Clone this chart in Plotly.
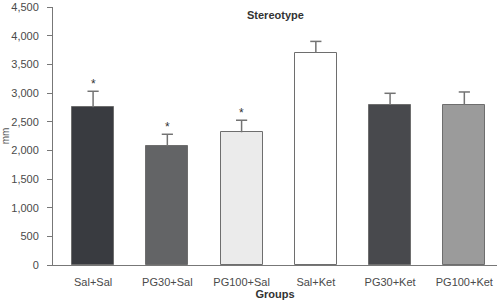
import plotly.graph_objects as go

groups = ["Sal+Sal", "PG30+Sal", "PG100+Sal", "Sal+Ket", "PG30+Ket", "PG100+Ket"]
means = [2750, 2070, 2315, 3700, 2790, 2790]
sem = [280, 210, 210, 200, 205, 228]
significant = [True, True, True, False, False, False]
colors = ["#393b40", "#636466", "#ebebeb", "#ffffff", "#48494d", "#9b9b9b"]

xs = list(range(len(groups)))
tops = [m + s for m, s in zip(means, sem)]

fig = go.Figure()
fig.add_trace(go.Bar(
    x=xs, y=means, width=0.565,
    marker=dict(color=colors, line=dict(color="#6e6e6e", width=1)),
    showlegend=False,
))

# error bar stems (upward only)
stem_x, stem_y = [], []
for x, m, t in zip(xs, means, tops):
    stem_x += [x, x, None]
    stem_y += [m, t, None]
fig.add_trace(go.Scatter(x=stem_x, y=stem_y, mode="lines",
                         line=dict(color="#737373", width=1.5),
                         showlegend=False, hoverinfo="skip"))
fig.add_trace(go.Scatter(x=xs, y=tops, mode="markers",
                         marker=dict(symbol="line-ew", size=8,
                                     line=dict(color="#737373", width=1.5)),
                         showlegend=False, hoverinfo="skip"))

for i, (t, sig) in enumerate(zip(tops, significant)):
    if sig:
        fig.add_annotation(x=i, y=t, text="*", showarrow=False, yanchor="bottom",
                           yshift=-2, font=dict(size=12, color="#333333", family="Liberation Sans"))

fig.add_annotation(x=0.5, y=1.0, xref="paper", yref="paper", text="<b>Stereotype</b>",
                   showarrow=False, yanchor="top",
                   font=dict(size=11, color="#333333", family="Liberation Sans"))

fig.update_layout(
    width=497, height=302,
    margin=dict(l=53, r=0, t=7, b=37),
    plot_bgcolor="white", paper_bgcolor="white",
    font=dict(family="Liberation Sans", size=11, color="#4a4a4a"),
    bargap=0,
)
fig.update_xaxes(
    tickmode="array", tickvals=xs, ticktext=groups,
    range=[-0.54, 5.44], showline=True, linecolor="#777777", linewidth=1,
    ticks="", showgrid=False, zeroline=False, ticklabelstandoff=7,
    title=dict(text="<b>Groups</b>", standoff=2, font=dict(size=11, color="#333333")),
)
fig.update_yaxes(
    range=[0, 4500], tickvals=[0, 500, 1000, 1500, 2000, 2500, 3000, 3500, 4000, 4500],
    tickformat=",d", showline=True, linecolor="#777777", linewidth=1,
    ticks="outside", ticklen=5, tickcolor="#777777", showgrid=False, zeroline=False,
    ticklabelstandoff=6,
    title=dict(text="mm", standoff=5, font=dict(size=10, color="#555555")),
)

fig.write_html("out.html")
